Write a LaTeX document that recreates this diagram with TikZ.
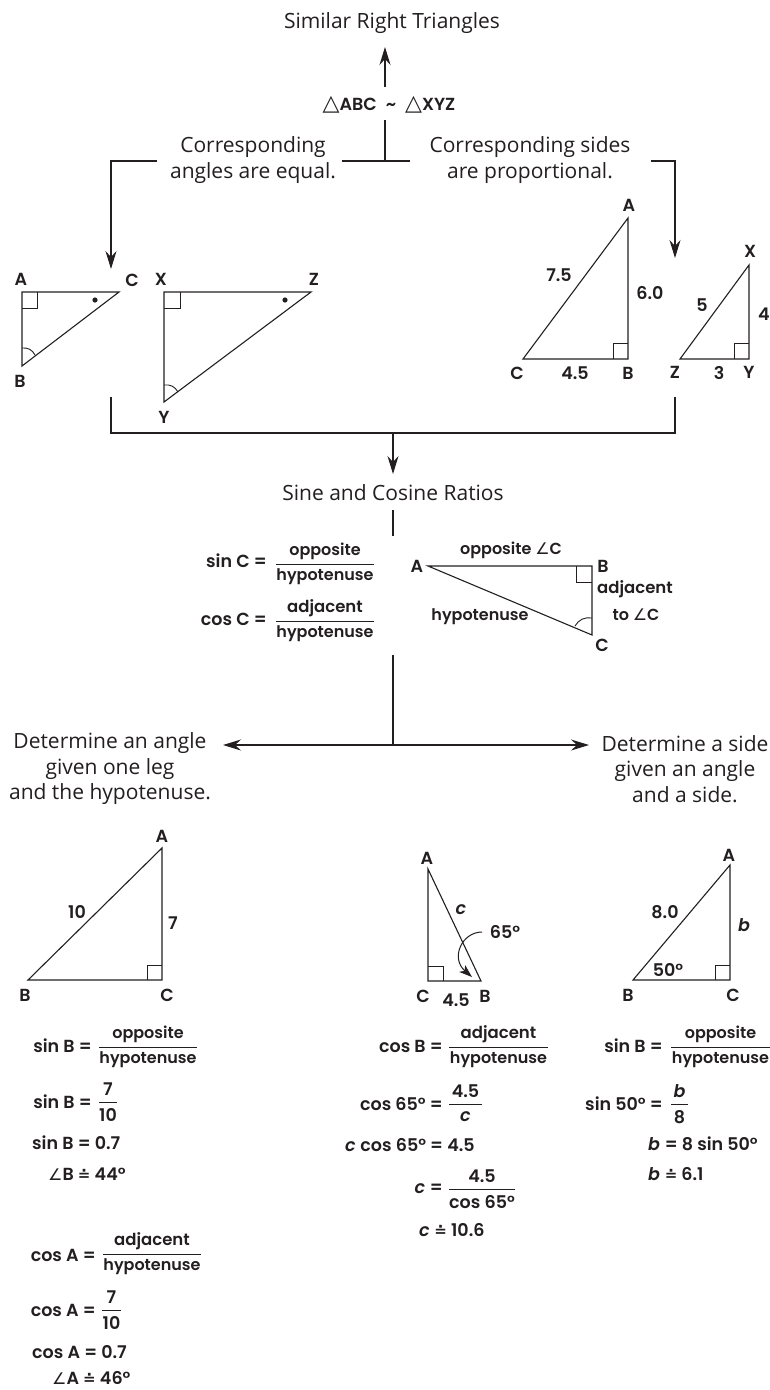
\documentclass[tikz,border=0pt]{standalone}
\usepackage{fontspec}
\usetikzlibrary{arrows.meta}
\definecolor{ink}{HTML}{231F20}
\setmainfont{Open Sans}
\newfontfamily\handfont{Poppins}[UprightFont={* SemiBold},ItalicFont={* SemiBold Italic}]
\newfontfamily\symfont{DejaVu Sans}
\newcommand{\angsym}{{\symfont\fontsize{16}{16}\selectfont ∠}}
\newcommand{\eqsym}{{\symfont\bfseries\fontsize{15}{15}\selectfont ≐}}
\newcommand{\trisym}{{\symfont\fontsize{22}{22}\selectfont △}}
\newcommand{\adjword}{{\fontsize{16.5}{18}\selectfont adjacent}}
% fraction: name, left end, right end, rule height, numerator, denominator
\newcommand{\ratio}[6]{%
  \coordinate (#1L) at (#2,#4);
  \coordinate (#1R) at (#3,#4);
  \draw[rulebar] (#1L)--(#1R);
  \node[hand] (#1N) at ({(#2+#3)/2},#4-13) {#5};
  \node[hand] (#1D) at ({(#2+#3)/2},#4+13) {#6};
}
\newcommand{\numratio}[6]{%
  \coordinate (#1L) at (#2,#4);
  \coordinate (#1R) at (#3,#4);
  \draw[rulebar] (#1L)--(#1R);
  \node[letter] (#1N) at ({(#2+#3)/2},#4-13) {#5};
  \node[letter] (#1D) at ({(#2+#3)/2},#4+13) {#6};
}

\begin{document}
\begin{tikzpicture}[x=1pt,y=-1pt,text=ink,draw=ink,
  flow/.style={-{Stealth[length=18pt,width=11pt,inset=6pt]},line width=1.2pt},
  stem/.style={line width=1.2pt},
  side/.style={line width=1.1pt,line join=miter},
  tick/.style={line width=.9pt},
  rulebar/.style={line width=.9pt},
  curved/.style={-{Stealth[length=13pt,width=9pt,inset=3.5pt]},line width=1pt},
  heading/.style={font=\fontsize{21}{25.5}\selectfont,align=center,inner sep=0pt},
  hand/.style={font=\handfont\fontsize{16}{18}\selectfont,inner sep=0pt},
  letter/.style={font=\handfont\fontsize{17.5}{20}\selectfont,inner sep=0pt}]
\useasboundingbox (0,0) rectangle (770,1390);
\fill[white] (0,0) rectangle (770,1390);

% THE SIMILARITY STATEMENT AND ITS TWO CONSEQUENCES
\node[heading] (title) at (392,23) {Similar Right Triangles};
\node[letter] (relation) at (389,105) {\trisym ABC\hspace{9pt}\textasciitilde\hspace{9pt}\trisym XYZ};
\node[heading] (angleshead) at (253,160) {Corresponding\\angles are equal.};
\node[heading] (sideshead) at (530,160) {Corresponding sides\\are proportional.};
\coordinate (titlefoot) at (385,47);
\coordinate (relationtop) at (385,87);
\coordinate (relationfoot) at (385,120);
\coordinate (branch) at (385,161);
\coordinate (branchL) at (342,161);
\coordinate (branchR) at (410,161);
\coordinate (leftstart) at (157,161);
\coordinate (leftturn) at (111,161);
\coordinate (lefttip) at (111,269);
\coordinate (rightstart) at (651,161);
\coordinate (rightturn) at (675,161);
\coordinate (righttip) at (675,258);
\draw[flow] (relationtop)--(titlefoot);
\draw[stem] (relationfoot)--(branch);
\draw[stem] (branchL)--(branchR);
\draw[flow] (leftstart)--(leftturn)--(lefttip);
\draw[flow] (rightstart)--(rightturn)--(righttip);

% Equal angles: the two triangles on the left
\draw[side] (22,292)--(119,292)--(22,366)--cycle;
\draw[tick] (22,308)--(37,308)--(37,292);
\draw[tick] (22,348) to[bend left=35] (35,355);
\fill[ink] (95,300) circle (2.6);
\node[letter] (smallA) at (21,279) {A};
\node[letter] (smallC) at (132,280) {C};
\node[letter] (smallB) at (20,381) {B};

\draw[side] (164,292)--(311,292)--(164,402)--cycle;
\draw[tick] (164,308)--(180,308)--(180,292);
\draw[tick] (164,385) to[bend left=35] (178,392);
\fill[ink] (285,300) circle (2.6);
\node[letter] (smallX) at (161,279) {X};
\node[letter] (smallZ) at (314,279) {Z};
\node[letter] (smallY) at (164,417) {Y};

% Proportional sides: the two triangles on the right
\draw[side] (628,218)--(523,359)--(628,359)--cycle;
\draw[tick] (613,359)--(613,343)--(628,343);
\node[letter] (bigA) at (629,205) {A};
\node[letter] (bigC) at (517,373) {C};
\node[letter] (bigbase) at (575,373) {4.5};
\node[letter] (bigB) at (628,373) {B};
\node[letter] (bighyp) at (559,275) {7.5};
\node[letter] (bigleg) at (650,293) {6.0};

\draw[side] (749,265)--(680,359)--(749,359)--cycle;
\draw[tick] (734,359)--(734,343)--(749,343);
\node[letter] (sideX) at (750,251) {X};
\node[letter] (sideZ) at (675,372) {Z};
\node[letter] (sidebase) at (719,373) {3};
\node[letter] (sideY) at (749,372) {Y};
\node[letter] (sidehyp) at (702,305) {5};
\node[letter] (sideleg) at (764,314) {4};

% BOTH RESULTS LEAD TO THE RATIOS
\coordinate (joinL) at (111,397);
\coordinate (joinLb) at (111,433);
\coordinate (joinR) at (675,397);
\coordinate (joinRb) at (675,433);
\coordinate (joinmid) at (393,433);
\coordinate (ratiostip) at (393,474);
\draw[stem] (joinL)--(joinLb)--(joinRb)--(joinR);
\draw[flow] (joinmid)--(ratiostip);
\node[heading] (ratios) at (393,493) {Sine and Cosine Ratios};
\coordinate (ratiosfoot) at (393,510);
\coordinate (ratiosend) at (393,536);
\draw[stem] (ratiosfoot)--(ratiosend);

\node[letter,anchor=east] (sinC) at (267,561) {sin C =};
\ratio{sinCfrac}{276}{374}{564}{opposite}{hypotenuse}
\node[letter,anchor=east] (cosC) at (267,619) {cos C =};
\ratio{cosCfrac}{276}{374}{621}{\adjword}{hypotenuse}

\draw[side] (428,566)--(592,566)--(592,635)--cycle;
\draw[tick] (576,566)--(576,582)--(592,582);
\draw[tick] (592,618) to[bend right=35] (575,626);
\node[letter] (defA) at (417,566) {A};
\node[letter] (defB) at (603,566) {B};
\node[letter] (defC) at (602,645) {C};
\node[hand] (defopp) at (511,550) {opposite \angsym C};
\node[hand] (defadj) at (635,589) {\adjword};
\node[hand] (defto) at (636,615) {to \angsym C};
\node[hand] (defhyp) at (480,617) {hypotenuse};

% TWO WAYS TO USE THE RATIOS
\coordinate (forkstart) at (393,655);
\coordinate (fork) at (393,745);
\coordinate (forkL) at (223,745);
\coordinate (forkR) at (589,745);
\draw[stem] (forkstart)--(fork);
\draw[flow] (fork)--(forkL);
\draw[flow] (fork)--(forkR);
\node[heading] (anglecase) at (110,769) {Determine an angle\\given one leg\\and the hypotenuse.};
\node[heading] (sidecase) at (685,769) {Determine a side\\given an angle\\and a side.};

% Angle from one leg and the hypotenuse
\draw[side] (162,848)--(28,980)--(162,980)--cycle;
\draw[tick] (147,980)--(147,965)--(162,965);
\node[letter] (legA) at (162,836) {A};
\node[letter] (legB) at (25,995) {B};
\node[letter] (legC) at (167,995) {C};
\node[letter] (leghyp) at (77,912) {10};
\node[letter] (legside) at (173,923) {7};

\node[letter,anchor=east] (sinBa) at (92,1046) {sin B =};
\ratio{sinBafrac}{99}{197}{1047}{opposite}{hypotenuse}
\node[letter,anchor=east] (sinBb) at (92,1102) {sin B =};
\numratio{sinBbfrac}{99}{117}{1102}{7}{10}
\node[letter,anchor=west] (sinBc) at (32,1143) {sin B = 0.7};
\node[letter,anchor=west] (angB) at (48,1174) {\angsym B \eqsym{} 44°};

\node[letter,anchor=east] (cosAa) at (96,1255) {cos A =};
\ratio{cosAafrac}{103}{201}{1254}{\adjword}{hypotenuse}
\node[letter,anchor=east] (cosAb) at (96,1310) {cos A =};
\numratio{cosAbfrac}{102}{121}{1310}{7}{10}
\node[letter,anchor=west] (cosAc) at (32,1352) {cos A = 0.7};
\node[letter,anchor=west] (angA) at (52,1378) {\angsym A \eqsym{} 46°};

% Side from an angle and the adjacent leg
\draw[side] (428,869)--(428,981)--(481,981)--cycle;
\draw[tick] (428,966)--(443,966)--(443,981);
\coordinate (arrowstart) at (482,932);
\coordinate (arrowtip) at (472,977);
\draw[curved] (arrowstart) .. controls (462,932) and (450,958) .. (arrowtip);
\node[letter] (adjA) at (427,858) {A};
\node[letter] (adjC) at (423,996) {C};
\node[letter] (adjB) at (485,996) {B};
\node[letter] (adjbase) at (456,1000) {4.5};
\node[letter] (adjhyp) at (461,910) {\itshape c};
\node[letter] (adjangle) at (505,932) {65°};

\node[letter,anchor=east] (cosBa) at (443,1046) {cos B =};
\ratio{cosBafrac}{449}{548}{1047}{\adjword}{hypotenuse}
\node[letter,anchor=east] (cosBb) at (443,1104) {cos 65° =};
\numratio{cosBbfrac}{449}{482}{1104}{4.5}{\itshape c}
\node[letter,anchor=west] (cosBc) at (345,1145) {\itshape c \upshape cos 65° = 4.5};
\node[letter,anchor=east] (cosBd) at (443,1189) {\itshape c \upshape =};
\numratio{cosBdfrac}{449}{515}{1189}{4.5}{cos 65°}
\node[letter,anchor=west] (cosBe) at (419,1230) {\itshape c \upshape\eqsym{} 10.6};

% Side from an angle and the hypotenuse
\draw[side] (730,865)--(633,980)--(730,980)--cycle;
\draw[tick] (715,980)--(715,965)--(730,965);
\node[letter] (hypA) at (729,855) {A};
\node[letter] (hypB) at (628,995) {B};
\node[letter] (hypC) at (733,995) {C};
\node[letter] (hypside) at (665,912) {8.0};
\node[letter] (hypleg) at (744,925) {\itshape b};
\node[letter] (hypangle) at (668,970) {50°};

\node[letter,anchor=east] (sinDa) at (663,1046) {sin B =};
\ratio{sinDafrac}{671}{770}{1047}{opposite}{hypotenuse}
\node[letter,anchor=east] (sinDb) at (663,1104) {sin 50° =};
\numratio{sinDbfrac}{671}{688}{1104}{\itshape b}{8}
\node[letter,anchor=west] (sinDc) at (648,1144) {\itshape b \upshape = 8 sin 50°};
\node[letter,anchor=west] (sinDd) at (648,1174) {\itshape b \upshape\eqsym{} 6.1};
\end{tikzpicture}
\end{document}
